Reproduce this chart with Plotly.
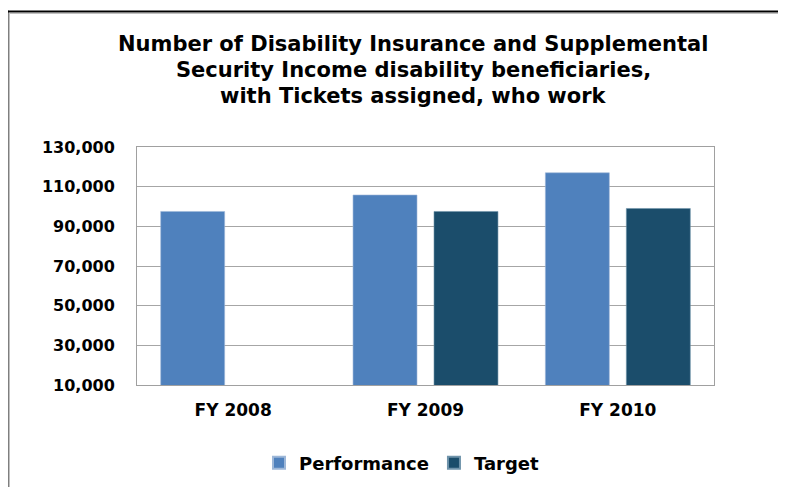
import plotly.graph_objects as go

categories = ["FY 2008", "FY 2009", "FY 2010"]
performance = [97500, 105800, 117000]
target = [None, 97500, 99000]
tick_vals = [10000, 30000, 50000, 70000, 90000, 110000, 130000]
tick_text = ["10,000", "30,000", "50,000", "70,000", "90,000", "110,000", "130,000"]
title_lines = [
    "Number of Disability Insurance and Supplemental",
    "Security Income disability beneficiaries,",
    "with Tickets assigned, who work",
]

W, H = 786, 487
OFF = 8  # page body margin
# plot area in page pixels
PL, PR, PT, PB = 137, 714, 147, 385
PW, PH = PR - PL, PB - PT
L, T = PL - OFF, PT - OFF
R = W - L - PW
B = H - T - PH

def px(x):
    return (x - PL) / PW

def py(y):
    return (PB - y) / PH

FONT = "DejaVu Sans"

fig = go.Figure()
fig.add_trace(go.Bar(name="<b>Performance</b>", x=categories, y=performance,
                     marker=dict(color="#4F81BD", line=dict(color="#9DB7D8", width=0.6))))
fig.add_trace(go.Bar(name="<b>Target</b>", x=categories, y=target,
                     marker=dict(color="#1B4D6B", line=dict(color="#6F93AA", width=0.6))))

annotations = []
for t, yc in zip(title_lines, [44, 70, 96]):
    annotations.append(dict(text="<b>" + t + "</b>", x=px(413), y=py(yc), xref="paper", yref="paper",
                            showarrow=False, xanchor="center", yanchor="middle",
                            font=dict(family=FONT, size=21, color="#000000")))

shapes = [
    dict(type="line", xref="paper", yref="paper", x0=px(7), x1=px(7), y0=py(10.5), y1=py(495),
         line=dict(color="#000000", width=3)),
    dict(type="line", xref="paper", yref="paper", x0=px(5.5), x1=px(800), y0=py(11.5), y1=py(11.5),
         line=dict(color="#000000", width=2)),
    dict(type="line", xref="paper", yref="paper", x0=px(9.5), x1=px(9.5), y0=py(13), y1=py(495),
         line=dict(color="#C0C0C0", width=1)),
    dict(type="line", xref="paper", yref="paper", x0=px(9.5), x1=px(800), y0=py(13.5), y1=py(13.5),
         line=dict(color="#C0C0C0", width=1)),
]

fig.update_layout(
    width=W, height=H,
    margin=dict(l=L, r=R, t=T, b=B, pad=0),
    paper_bgcolor="#FFFFFF", plot_bgcolor="#FFFFFF",
    barmode="group", bargap=0.158, bargroupgap=0.21,
    annotations=annotations, shapes=shapes,
    showlegend=True,
    legend=dict(orientation="h", x=px(402), y=py(463), xanchor="center", yanchor="middle",
                font=dict(family=FONT, size=18, color="#000000"), itemsizing="constant",
                tracegroupgap=0, itemclick=False),
    font=dict(family=FONT, color="#000000"),
)
fig.update_xaxes(
    type="category", showgrid=False, showline=True, linecolor="#A0A0A0", linewidth=1, mirror=True,
    ticks="", tickfont=dict(family=FONT, size=17, color="#000000"),
    tickvals=categories, ticktext=["<b>" + c + "</b>" for c in categories], ticklabelstandoff=10,
)
fig.update_yaxes(
    range=[10000, 130000], tickvals=tick_vals, ticktext=["<b>" + t + "</b>" for t in tick_text],
    showgrid=True, gridcolor="#A6A6A6", gridwidth=1, showline=True, linecolor="#A0A0A0",
    linewidth=1, mirror=True, ticks="", tickfont=dict(family=FONT, size=16, color="#000000"),
    ticklabelstandoff=18, zeroline=False,
)

fig.write_html("out.html")
